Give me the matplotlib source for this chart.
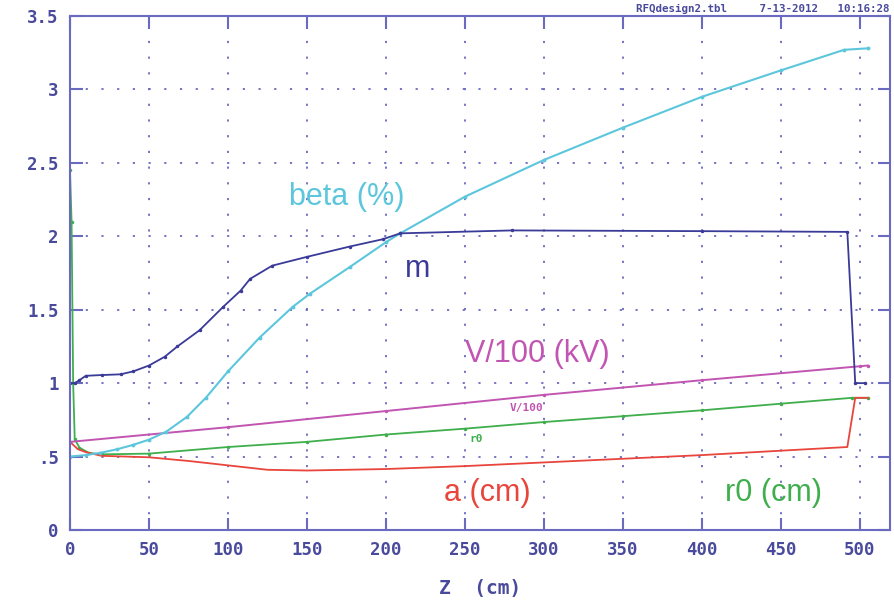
import matplotlib
matplotlib.use('Agg')
import matplotlib.pyplot as plt

# Data
z_m = [0, 3, 6, 10, 20, 32, 40, 50, 60, 68, 82, 97, 108, 114, 128, 150, 177, 198, 209, 280, 400, 492, 497, 503]
m = [1.0, 1.0, 1.02, 1.05, 1.055, 1.06, 1.08, 1.12, 1.18, 1.25, 1.36, 1.52, 1.63, 1.71, 1.80, 1.86, 1.93, 1.98, 2.02, 2.04, 2.035, 2.03, 1.0, 1.0]

z_beta = [0, 10, 19, 30, 40, 50, 61, 74, 86, 100, 120, 141, 152, 177, 200, 209, 250, 300, 350, 400, 450, 490, 505]
beta = [0.5, 0.51, 0.525, 0.55, 0.58, 0.615, 0.67, 0.77, 0.9, 1.08, 1.31, 1.52, 1.61, 1.79, 1.96, 2.02, 2.27, 2.52, 2.74, 2.95, 3.13, 3.27, 3.28]

z_v = [0, 100, 200, 300, 400, 500, 505]
v100 = [0.60, 0.70, 0.81, 0.92, 1.02, 1.115, 1.12]

z_r0 = [0, 1, 2, 3, 6, 12, 20, 50, 100, 150, 200, 250, 300, 350, 400, 450, 495, 505]
r0 = [2.45, 2.1, 1.0, 0.62, 0.56, 0.525, 0.515, 0.52, 0.565, 0.60, 0.65, 0.69, 0.735, 0.775, 0.815, 0.86, 0.90, 0.90]

z_a = [0, 5, 10, 20, 50, 75, 100, 125, 150, 200, 250, 300, 350, 400, 450, 492, 497, 505]
a = [0.60, 0.55, 0.53, 0.505, 0.495, 0.47, 0.44, 0.41, 0.405, 0.415, 0.435, 0.46, 0.485, 0.51, 0.54, 0.565, 0.90, 0.90]

x_ticks = [0, 50, 100, 150, 200, 250, 300, 350, 400, 450, 500]
y_ticks = [0, 0.5, 1, 1.5, 2, 2.5, 3, 3.5]
y_labels = ['0', '.5', '1', '1.5', '2', '2.5', '3', '3.5']

frame = '#6a6ac0'
tick_col = '#4a4a9c'
mono = 'DejaVu Sans Mono'
sans = 'Liberation Sans'

fig = plt.figure(figsize=(8.95, 6), dpi=100)
ax = fig.add_axes([0.0782, 0.1167, 0.9162, 0.8566])

ax.plot(z_r0, r0, '.-', color='#3fae4c', lw=1.3, ms=3)
ax.plot(z_a, a, '-', color='#e8453c', lw=1.3)
ax.plot(z_v, v100, '.-', color='#c255b2', lw=1.4, ms=3)
ax.plot(z_beta, beta, '.-', color='#5cc6dc', lw=1.5, ms=3.5)
ax.plot(z_m, m, '.-', color='#3a3a98', lw=1.3, ms=3)

ax.set_xlim(0, 519)
ax.set_ylim(0, 3.5)
ax.set_xticks(x_ticks)
ax.set_yticks(y_ticks)
ax.set_yticklabels(y_labels)
ax.grid(True, color=frame, linestyle=(0, (1.2, 7.5)), linewidth=1.3)

for s in ax.spines.values():
    s.set_color(frame)
    s.set_linewidth(1.5)
ax.tick_params(direction='in', length=9, width=1.5, color=frame,
               top=True, right=True, labelsize=12.5, labelcolor=tick_col, pad=8)
for lab in ax.get_xticklabels() + ax.get_yticklabels():
    lab.set_family(mono)
    lab.set_fontweight('bold')

ax.set_xlabel('Z  (cm)', family=mono, fontweight='bold', fontsize=14,
              color=tick_col, labelpad=14)

# Curve labels
ax.text(175, 2.27, 'beta (%)', color='#5cc6dc', fontsize=22, family=sans, ha='center', va='center')
ax.text(220, 1.78, 'm', color='#3a3a98', fontsize=22, family=sans, ha='center', va='center')
ax.text(296, 1.20, 'V/100 (kV)', color='#c255b2', fontsize=22, family=sans, ha='center', va='center')
ax.text(264, 0.25, 'a (cm)', color='#e8453c', fontsize=22, family=sans, ha='center', va='center')
ax.text(445, 0.25, 'r0 (cm)', color='#3fae4c', fontsize=22, family=sans, ha='center', va='center')
ax.text(289, 0.83, 'V/100', color='#c255b2', fontsize=8, family=mono, fontweight='bold', ha='center', va='center')
ax.text(257, 0.62, 'r0', color='#3fae4c', fontsize=8, family=mono, fontweight='bold', ha='center', va='center')

fig.text(0.994, 0.985, 'RFQdesign2.tbl     7-13-2012   10:16:28', family=mono,
         fontweight='bold', fontsize=7.8, color=tick_col, ha='right', va='center')

fig.savefig('out.png', dpi=100)
plt.close(fig)
